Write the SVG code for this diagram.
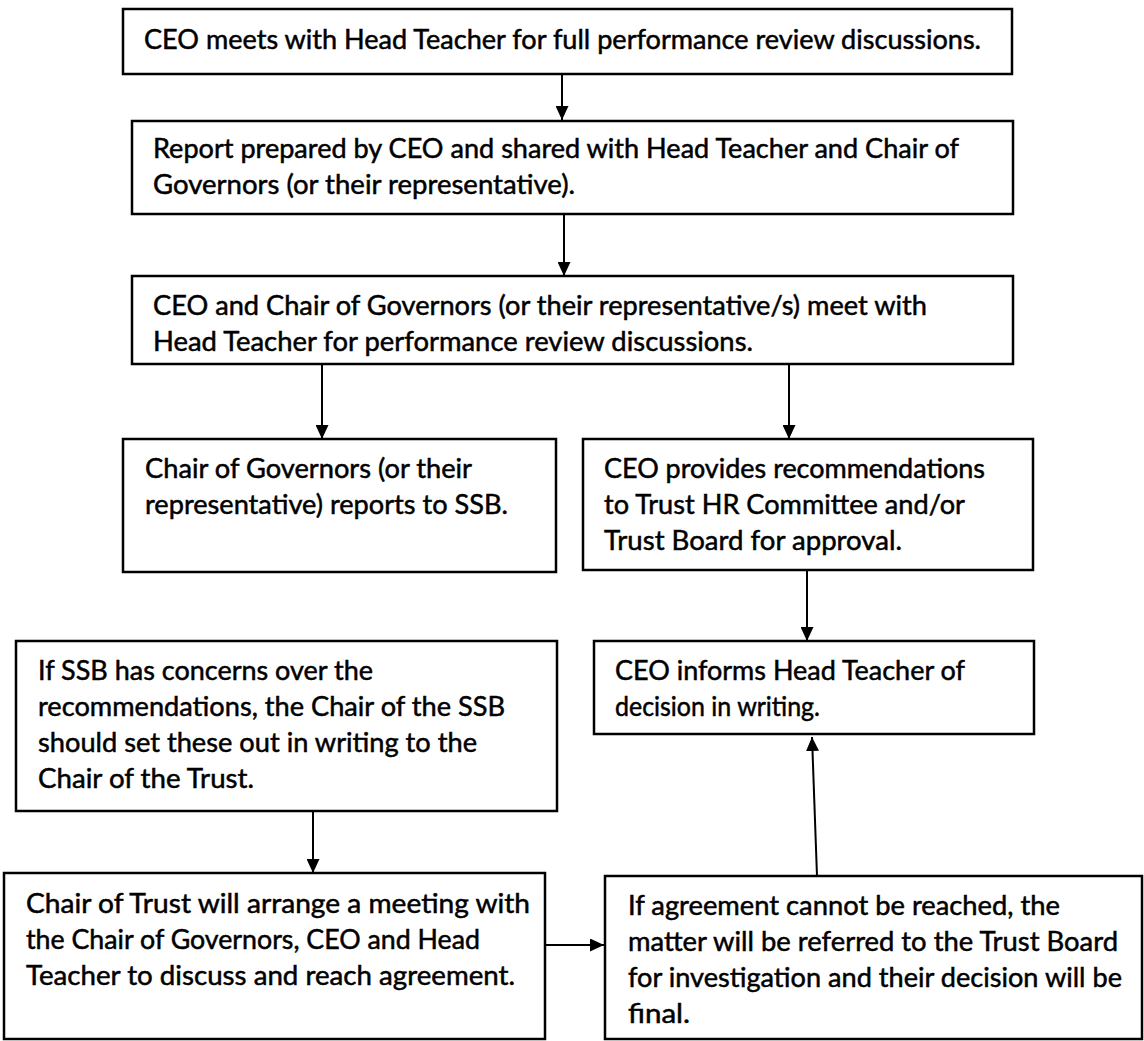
<svg xmlns="http://www.w3.org/2000/svg" width="1144" height="1041" viewBox="0 0 1144 1041">
<defs>
<style>
.box{fill:#fff;stroke:#000;stroke-width:2.5}
.t{font-family:Lato,"Open Sans","Liberation Sans",sans-serif;font-size:27px;fill:#000;stroke:#000;stroke-width:0.5}
.c{stroke:#000;stroke-width:2;fill:none}
</style>
<marker id="ah" viewBox="0 0 14 13" refX="14" refY="6.5" markerWidth="14" markerHeight="13" markerUnits="userSpaceOnUse" orient="auto">
<path d="M0,0 L14,6.5 L0,13 z" fill="#000"/>
</marker>
</defs>
<rect width="1144" height="1041" fill="#fff"/>
<g id="connectors">
<line class="c" x1="562" y1="74" x2="562" y2="120" marker-end="url(#ah)"/>
<line class="c" x1="564" y1="214" x2="564" y2="276" marker-end="url(#ah)"/>
<line class="c" x1="322" y1="364" x2="322" y2="439" marker-end="url(#ah)"/>
<line class="c" x1="789" y1="364" x2="789" y2="439" marker-end="url(#ah)"/>
<line class="c" x1="807" y1="570" x2="807" y2="641" marker-end="url(#ah)"/>
<line class="c" x1="313" y1="811" x2="313" y2="873" marker-end="url(#ah)"/>
<line class="c" x1="545" y1="945" x2="604" y2="945" marker-end="url(#ah)"/>
<line class="c" x1="817" y1="876" x2="812" y2="737" marker-end="url(#ah)"/>
</g>
<g id="n1">
<rect class="box" x="123" y="9" width="889" height="65"/>
<text class="t" x="144" y="49" textLength="837" lengthAdjust="spacingAndGlyphs">CEO meets with Head Teacher for full performance review discussions.</text>
</g>
<g id="n2">
<rect class="box" x="132" y="121" width="881" height="93"/>
<text class="t" x="153" y="158" textLength="806" lengthAdjust="spacingAndGlyphs">Report prepared by CEO and shared with Head Teacher and Chair of</text>
<text class="t" x="153" y="194" textLength="422" lengthAdjust="spacingAndGlyphs">Governors (or their representative).</text>
</g>
<g id="n3">
<rect class="box" x="132" y="276" width="881" height="88"/>
<text class="t" x="153" y="315" textLength="774" lengthAdjust="spacingAndGlyphs">CEO and Chair of Governors (or their representative/s) meet with</text>
<text class="t" x="153" y="351" textLength="600" lengthAdjust="spacingAndGlyphs">Head Teacher for performance review discussions.</text>
</g>
<g id="n4">
<rect class="box" x="123" y="439" width="433" height="133"/>
<text class="t" x="145" y="478" textLength="327" lengthAdjust="spacingAndGlyphs">Chair of Governors (or their</text>
<text class="t" x="145" y="514" textLength="363" lengthAdjust="spacingAndGlyphs">representative) reports to SSB.</text>
</g>
<g id="n5">
<rect class="box" x="583" y="439" width="450" height="131"/>
<text class="t" x="604" y="478" textLength="381" lengthAdjust="spacingAndGlyphs">CEO provides recommendations</text>
<text class="t" x="604" y="514" textLength="361" lengthAdjust="spacingAndGlyphs">to Trust HR Committee and/or</text>
<text class="t" x="604" y="550" textLength="298" lengthAdjust="spacingAndGlyphs">Trust Board for approval.</text>
</g>
<g id="n6">
<rect class="box" x="594" y="641" width="440" height="93"/>
<text class="t" x="615" y="680" textLength="350" lengthAdjust="spacingAndGlyphs">CEO informs Head Teacher of</text>
<text class="t" x="615" y="716" textLength="205" lengthAdjust="spacingAndGlyphs">decision in writing.</text>
</g>
<g id="n7">
<rect class="box" x="16" y="641" width="541" height="170"/>
<text class="t" x="38" y="680" textLength="335" lengthAdjust="spacingAndGlyphs">If SSB has concerns over the</text>
<text class="t" x="38" y="716" textLength="467" lengthAdjust="spacingAndGlyphs">recommendations, the Chair of the SSB</text>
<text class="t" x="38" y="752" textLength="439" lengthAdjust="spacingAndGlyphs">should set these out in writing to the</text>
<text class="t" x="38" y="788" textLength="216" lengthAdjust="spacingAndGlyphs">Chair of the Trust.</text>
</g>
<g id="n8">
<rect class="box" x="4" y="873" width="541" height="166"/>
<text class="t" x="26" y="913" textLength="504" lengthAdjust="spacingAndGlyphs">Chair of Trust will arrange a meeting with</text>
<text class="t" x="26" y="949" textLength="454" lengthAdjust="spacingAndGlyphs">the Chair of Governors, CEO and Head</text>
<text class="t" x="26" y="985" textLength="489" lengthAdjust="spacingAndGlyphs">Teacher to discuss and reach agreement.</text>
</g>
<g id="n9">
<rect class="box" x="605" y="876" width="537" height="163"/>
<text class="t" x="628" y="915" textLength="432" lengthAdjust="spacingAndGlyphs">If agreement cannot be reached, the</text>
<text class="t" x="628" y="951" textLength="490" lengthAdjust="spacingAndGlyphs">matter will be referred to the Trust Board</text>
<text class="t" x="628" y="987" textLength="494" lengthAdjust="spacingAndGlyphs">for investigation and their decision will be</text>
<text class="t" x="628" y="1023" textLength="62" lengthAdjust="spacingAndGlyphs">final.</text>
</g>
</svg>
